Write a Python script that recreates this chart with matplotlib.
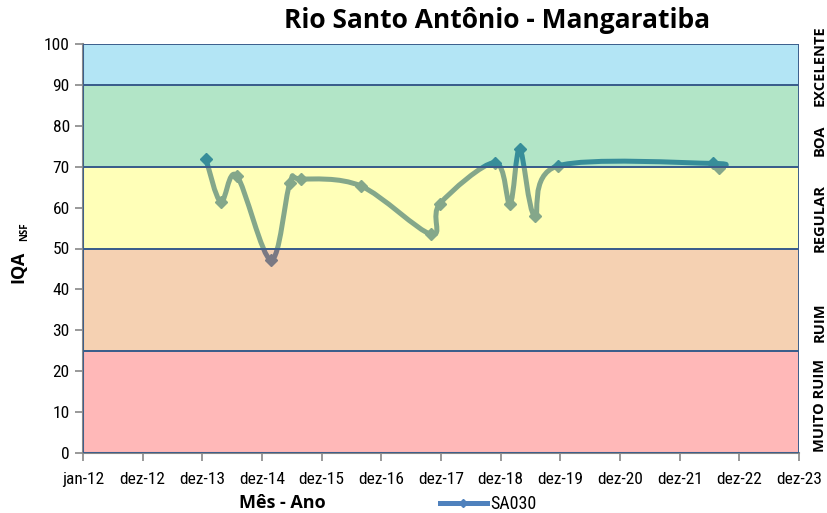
import matplotlib
matplotlib.use("Agg")
import matplotlib.pyplot as plt
import matplotlib.dates as mdates
from matplotlib.path import Path
from matplotlib.patches import PathPatch
from matplotlib import font_manager
import numpy as np

# dados
datas = ['2014-01-23', '2014-04-23', '2014-07-30', '2015-02-24', '2015-06-20',
         '2015-08-25', '2016-08-27', '2017-10-31', '2017-12-25', '2018-11-25',
         '2019-02-26', '2019-04-27', '2019-07-27', '2019-12-16', '2022-07-22',
         '2022-08-28']
iqa = [71.8, 61.4, 67.8, 47.2, 66.0, 67.0, 65.3, 53.5, 61.0, 71.0,
       61.0, 74.3, 58.0, 70.2, 70.8, 69.8]
serie = 'SA030'

faixas = ['MUITO RUIM', 'RUIM', 'REGULAR', 'BOA', 'EXCELENTE']
limites = [0, 25, 50, 70, 90, 100]
cores_faixas = ['#ff1616', '#de6900', '#ffff16', '#00ac48', '#05acde']

tick_datas = ['2012-01-01'] + ['%d-12-31' % a for a in range(2012, 2024)]
tick_nomes = ['jan-12'] + ['dez-%02d' % (a % 100) for a in range(2012, 2024)]


def fonte(nomes):
    disp = {f.name for f in font_manager.fontManager.ttflist}
    for n in nomes:
        if n in disp:
            return n
    return 'DejaVu Sans'


fam = fonte(['Liberation Sans Narrow', 'Roboto Condensed', 'Open Sans', 'Liberation Sans'])
fam_b = fonte(['Open Sans', 'Liberation Sans'])
plt.rcParams['font.family'] = fam

fig = plt.figure(figsize=(8.28, 5.13), dpi=100)
ax = fig.add_axes([83 / 828, 1 - 453 / 513, 716 / 828, 409 / 513])

x = mdates.date2num(np.array(datas, dtype='datetime64[D]'))
y = np.array(iqa)

# curva suavizada (estilo Excel: bezier tipo Catmull-Rom)
px = np.concatenate([[x[0]], x, [x[-1]]])
py = np.concatenate([[y[0]], y, [y[-1]]])
verts = [(x[0], y[0])]
codes = [Path.MOVETO]
for i in range(1, len(px) - 2):
    c1 = (px[i] + (px[i + 1] - px[i - 1]) / 6, py[i] + (py[i + 1] - py[i - 1]) / 6)
    c2 = (px[i + 1] - (px[i + 2] - px[i]) / 6, py[i + 1] - (py[i + 2] - py[i]) / 6)
    verts += [c1, c2, (px[i + 1], py[i + 1])]
    codes += [Path.CURVE4] * 3
azul = '#4f81bd'
ax.add_patch(PathPatch(Path(verts, codes), fill=False, edgecolor=azul, lw=3.6,
                       zorder=2, capstyle='round', joinstyle='round'))
ax.plot(x, y, linestyle='none', marker='D', ms=6, color=azul, zorder=2)
ax.plot([], [], color=azul, lw=3.6, marker='D', ms=4, label=serie)

# faixas de qualidade por cima da linha (transparentes)
for i in range(len(faixas)):
    r, g, b = matplotlib.colors.to_rgb(cores_faixas[i])
    ax.axhspan(limites[i], limites[i + 1], facecolor=(r, g, b, 0.3),
               edgecolor='#3b5e8c', lw=1.4, zorder=3)

ax.set_xlim(mdates.date2num(np.datetime64('2012-01-01')),
            mdates.date2num(np.datetime64('2023-12-31')))
ax.set_ylim(0, 100)
ax.set_yticks(range(0, 101, 10))
ax.set_xticks(mdates.date2num(np.array(tick_datas, dtype='datetime64[D]')))
ax.set_xticklabels(tick_nomes)
ax.tick_params(axis='both', labelsize=12.5, color='#888888', length=6, width=1.2)
ax.tick_params(axis='x', pad=8)
for s in ['top', 'right']:
    ax.spines[s].set_visible(False)
ax.spines['left'].set_color('#888888')
ax.spines['bottom'].set_color('#888888')
ax.spines['left'].set_linewidth(1.5)
ax.spines['bottom'].set_linewidth(1.5)

fig.text(497 / 828, 1 - 21 / 513, 'Rio Santo Antônio - Mangaratiba', ha='center',
         va='center', fontsize=19, fontweight='bold', family=fam_b)
fig.text(282 / 828, 1 - 503 / 513, 'Mês - Ano', ha='center', va='center',
         fontsize=13, fontweight='bold', family=fam_b)
fig.text(18 / 828, 1 - 267 / 513, 'IQA', rotation=90, ha='center', va='center',
         fontsize=13, fontweight='bold', family=fam_b)
fig.text(25 / 828, 1 - 232 / 513, 'NSF', rotation=90, ha='center', va='center',
         fontsize=7, fontweight='bold', family=fam_b)

# rotulos das faixas, encostados na borda direita
pos_rot = [405, 322, 218, 140, 66]
for nome, yy in zip(faixas, pos_rot):
    fig.text(827 / 828, 1 - yy / 513, nome, rotation=90, ha='right', va='center',
             fontsize=10.5, fontweight='bold', family=fam_b)

ax.legend(loc='center', bbox_to_anchor=(0.566, -0.125), frameon=False,
          fontsize=13, handlelength=2.6, handletextpad=0.2)

fig.savefig('out.png', dpi=100)
